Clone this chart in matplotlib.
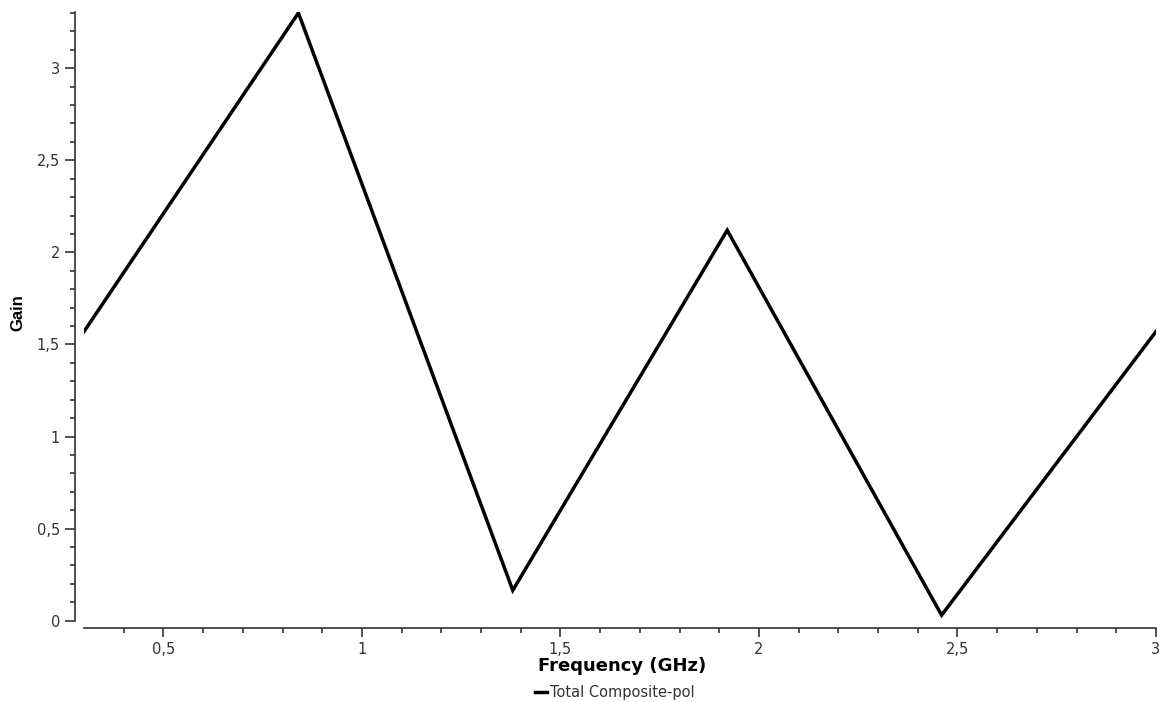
import matplotlib
matplotlib.use("Agg")
import numpy as np
import matplotlib.pyplot as plt
from matplotlib.ticker import FixedLocator, FuncFormatter

# frequency (GHz) and gain
freq = [0.3, 0.84, 1.38, 1.92, 2.46, 3.0]
gain = [1.57, 3.30, 0.165, 2.12, 0.03, 1.57]

x_major = [0.5, 1.0, 1.5, 2.0, 2.5, 3.0]
y_major = [0, 0.5, 1.0, 1.5, 2.0, 2.5, 3.0]

plt.rcParams['font.family'] = ['DejaVu Sans']
tcol = '#333333'
px = 72 / 100  # points per pixel

fig = plt.figure(figsize=(11.63, 7.02), dpi=100)
ax_h = 620.7 - 12
ax = fig.add_axes([84/1163, 81.3/702, (1156-84)/1163, ax_h/702])

line, = ax.plot(freq, gain, color='black', lw=2.5, solid_joinstyle='miter',
                label='Total Composite-pol')

ax.set_xlim(0.3, 3.0)
ax.set_ylim(0, 3.305)

for s in ['top', 'right']:
    ax.spines[s].set_visible(False)
ax.spines['left'].set_position(('outward', 9 * px))
ax.spines['bottom'].set_position(('outward', 7 * px))
for s in ['left', 'bottom']:
    ax.spines[s].set_color(tcol)
    ax.spines[s].set_linewidth(1.2)

ax.xaxis.set_major_locator(FixedLocator(x_major))
ax.xaxis.set_minor_locator(FixedLocator([round(v, 1) for v in np.arange(0.4, 3.0, 0.1)]))
ax.yaxis.set_major_locator(FixedLocator(y_major))
ax.yaxis.set_minor_locator(FixedLocator([round(v, 1) for v in np.arange(0.1, 3.35, 0.1)]))

fmt = FuncFormatter(lambda v, p: ('%g' % v).replace('.', ','))
ax.xaxis.set_major_formatter(fmt)
ax.yaxis.set_major_formatter(fmt)

ax.tick_params(which='major', length=10 * px, width=1.2, color=tcol, labelcolor=tcol,
               labelsize=10.5, pad=5 * px)
ax.tick_params(axis='x', which='major', length=9 * px)
ax.tick_params(which='minor', length=5 * px, width=1.2, color=tcol)

ax.set_xlabel('Frequency (GHz)', fontsize=13, fontweight='bold', color='black', va='center')
ax.xaxis.set_label_coords((622 - 84) / 1072, (620.7 - 666) / ax_h)
ax.set_ylabel('Gain', fontsize=12, fontweight='bold', color='black', va='center',
              family='Liberation Sans')
ax.yaxis.set_label_coords((18 - 84) / 1072, (620.7 - 313) / ax_h)

fig.legend(handles=[line], loc='center', bbox_to_anchor=(615/1163, 1 - 693/702),
           frameon=False, fontsize=10.5, handlelength=0.8, handletextpad=0.25,
           labelcolor=tcol)

fig.savefig('out.png', dpi=100)
